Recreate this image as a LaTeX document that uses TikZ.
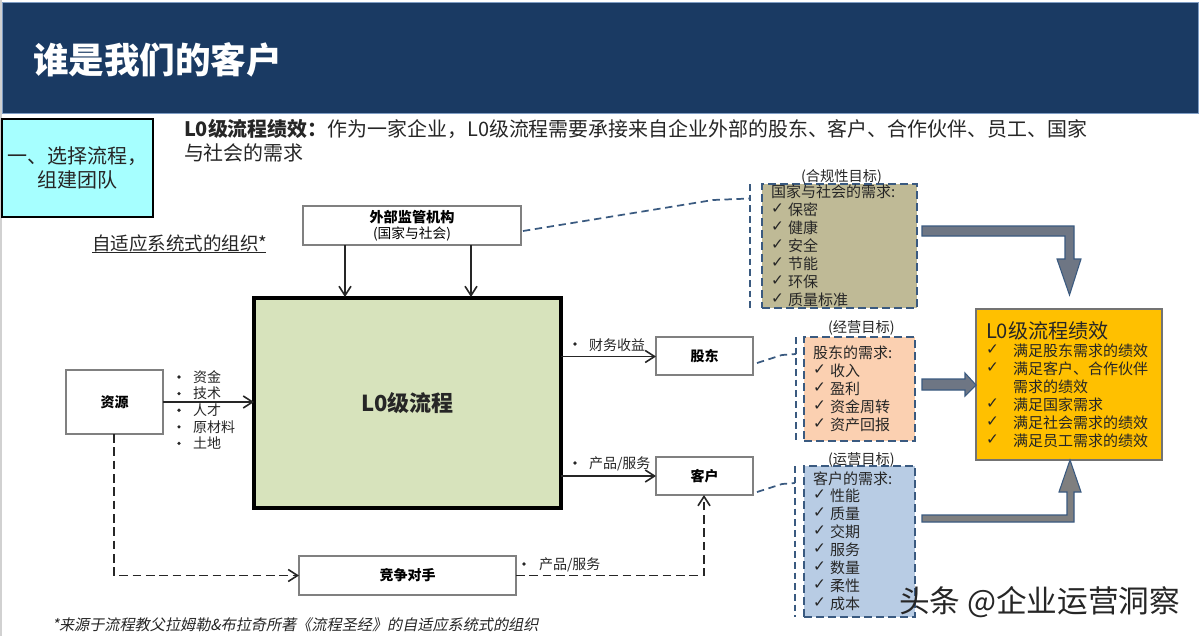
\documentclass[tikz,border=0pt]{standalone}
\usepackage{fontspec}
\setmainfont{Noto Sans CJK SC}
\usetikzlibrary{arrows.meta}
\definecolor{band}{HTML}{1A3A63}
\definecolor{bandedge}{HTML}{7F9DC4}
\definecolor{cyanbox}{HTML}{A6FFFF}
\definecolor{greenbox}{HTML}{D7E3BC}
\definecolor{khaki}{HTML}{BFBA96}
\definecolor{peach}{HTML}{FBD0B1}
\definecolor{bluebox}{HTML}{B8CCE4}
\definecolor{goldbox}{HTML}{FFC000}
\definecolor{fatarrow}{HTML}{6E7684}
\definecolor{fatgrey}{HTML}{7F7F7F}
\definecolor{dashblue}{HTML}{3A5A80}
\definecolor{boxgrey}{HTML}{808080}
\definecolor{ink}{HTML}{262626}
\tikzset{
  x=0.75pt,y=-0.75pt,
  every node/.style={outer sep=0pt},
  txt/.style={inner sep=0pt,text=ink,anchor=west,font=\fontsize{11.25}{14}\selectfont},
  small/.style={txt,font=\fontsize{10.5}{12}\selectfont},
  caption/.style={txt,font=\fontsize{10.7}{12}\selectfont},
  whitebox/.style={draw=boxgrey,line width=1.2pt,fill=white,inner sep=0pt,text=black,align=center,anchor=north west},
  boldlabel/.style={whitebox,font=\fontsize{10.5}{12}\selectfont\bfseries},
  arr/.style={draw=black!85,line width=1.2pt,-{Straight Barb[length=7pt,width=9pt,line width=1.2pt]}},
  darr/.style={arr,dash pattern=on 6.5pt off 3.5pt},
  dashbox/.style={draw=dashblue,line width=1.3pt,dash pattern=on 6pt off 3pt,inner sep=0pt,anchor=north west},
  dashline/.style={draw=dashblue,line width=1.3pt,dash pattern=on 5.5pt off 3.5pt},
  bracket/.style={draw=dashblue,line width=1.2pt,dash pattern=on 5pt off 3pt},
  fat/.style={fill=fatarrow,draw=dashblue,line width=0.8pt,line join=miter},
}
\newcommand{\ck}{{\fontspec{DejaVu Sans}\fontsize{11.5}{12}\selectfont ✓}}
\begin{document}
\begin{tikzpicture}
\useasboundingbox (0,0) rectangle (1200,636);
\fill[white] (0,0) rectangle (1200,636);
\fill[black!18] (0,0) rectangle (2,636);
% header
\node[fill=band,draw=bandedge,line width=0.7pt,minimum width=1196*0.75pt,minimum height=111*0.75pt,anchor=north west,inner sep=0pt] (header) at (2,2) {};
\node[anchor=west,inner sep=0pt,text=white,font=\fontsize{26.7}{30}\selectfont\bfseries] (title) at (33,60) {谁是我们的客户};
% step box
\node[draw=black,line width=1.2pt,fill=cyanbox,minimum width=151*0.75pt,minimum height=98*0.75pt,anchor=north west,inner sep=0pt,align=center,text=ink,font=\fontsize{15}{18}\selectfont] (stepbox) at (2,119) {一、选择流程，\\组建团队};
% intro
\node[txt,font=\fontsize{14.95}{18}\selectfont] (intro1) at (184,129) {\textbf{L0级流程绩效：}作为一家企业，L0级流程需要承接来自企业外部的股东、客户、合作伙伴、员工、国家};
\node[txt,font=\fontsize{14.95}{18}\selectfont] (intro2) at (184,153) {与社会的需求};
% org label
\node[txt,font=\fontsize{13.9}{16}\selectfont] (orglabel) at (92,243) {自适应系统式的组织*};
\coordinate (ula) at (92,252.5); \coordinate (ulb) at (266,252.5);
\draw[line width=0.7pt,black!85] (ula) -- (ulb);
% boxes
\node[whitebox,minimum width=218*0.75pt,minimum height=39*0.75pt] (reg) at (303,206) {\fontsize{10.6}{12}\selectfont\textbf{外部监管机构}\\\fontsize{10.3}{12}\selectfont (国家与社会)};
\node[draw=black,line width=2.3pt,fill=greenbox,minimum width=307*0.75pt,minimum height=210*0.75pt,anchor=north west,inner sep=0pt,font=\fontsize{16.5}{20}\selectfont\bfseries,text=ink] (main) at (254,298) {L0级流程};
\node[boldlabel,minimum width=97*0.75pt,minimum height=64*0.75pt] (res) at (66,370) {资源};
\node[boldlabel,minimum width=97*0.75pt,minimum height=38*0.75pt] (sh) at (656,337) {股东};
\node[boldlabel,minimum width=97*0.75pt,minimum height=38*0.75pt] (cu) at (656,457) {客户};
\node[boldlabel,minimum width=217*0.75pt,minimum height=39*0.75pt] (comp) at (299,556) {竞争对手};
% connectors
\coordinate (regA) at (345,245); \coordinate (mainA) at (345,297);
\coordinate (regB) at (471,245); \coordinate (mainB) at (471,297);
\draw[arr] (regA) -- (mainA);
\draw[arr] (regB) -- (mainB);
\draw[arr] (res.east) -- (res.east -| main.west);
\coordinate (mainS) at (561,356.5); \coordinate (mainC) at (561,476);
\draw[arr] (mainS) -- (mainS -| sh.west);
\draw[arr] (mainC) -- (mainC -| cu.west);
\coordinate (resdown) at (114,575.5);
\draw[darr] (res.south -| resdown) -- (resdown) -- (comp.west);
\coordinate (cucorner) at (704,575.5);
\draw[darr] (comp.east) -- (cucorner) -- (cu.south -| cucorner);
% input labels
\foreach \t [count=\i from 0] in {资金,技术,人才,原材料,土地}{
  \node[small] at (193,{377+16.6*\i}) {\t};
  \fill[ink] (179,{377+16.6*\i}) circle (1.8);
}
\node[small] (l1) at (589,345) {财务收益}; \fill[ink] (575,344) circle (1.8);
\node[small] (l2) at (589,464) {产品/服务}; \fill[ink] (575,463) circle (1.8);
\node[small] (l3) at (539,565) {产品/服务}; \fill[ink] (524,564) circle (1.8);
% need boxes
\node[dashbox,fill=khaki,minimum width=155*0.75pt,minimum height=124*0.75pt] (nat) at (762,184) {};
\node[dashbox,fill=peach,minimum width=111*0.75pt,minimum height=104*0.75pt] (shn) at (804,337) {};
\node[dashbox,fill=bluebox,minimum width=111*0.75pt,minimum height=151*0.75pt] (cun) at (804,466) {};
\coordinate (brA1) at (750,184); \coordinate (brA2) at (750,308); \coordinate (brAm) at (750,198.5);
\coordinate (brB1) at (796,337); \coordinate (brB2) at (796,441); \coordinate (brBm) at (796,354);
\coordinate (brC1) at (795,466); \coordinate (brC2) at (795,617); \coordinate (brCm) at (795,483);
\draw[bracket] (brA1) -- (brA2);
\draw[bracket] (brB1) -- (brB2);
\draw[bracket] (brC1) -- (brC2);
\coordinate (regout) at (523,231); \coordinate (regbend) at (713,200);
\coordinate (shout) at (757,363); \coordinate (shbend) at (782,355);
\coordinate (cuout) at (757,492); \coordinate (cubend) at (782,484);
\draw[dashline] (regout) -- (regbend) -- (brAm);
\draw[dashline] (shout) -- (shbend) -- (brBm);
\draw[dashline] (cuout) -- (cubend) -- (brCm);
% captions
\node[caption] at (801,176.5) {(合规性目标)};
\node[caption] at (828,328) {(经营目标)};
\node[caption] at (828,460) {(运营目标)};
% need texts
\node[txt] at (771,192) {国家与社会的需求:};
\foreach \t [count=\i from 0] in {保密,健康,安全,节能,环保,质量标准}{
  \node[txt] at (788,{209.5+18*\i}) {\t};
  \node[txt] at (771,{208.5+18*\i}) {\ck};
}
\node[txt] at (813,353) {股东的需求:};
\foreach \t [count=\i from 0] in {收入,盈利,资金周转,资产回报}{
  \node[txt] at (830,{370.5+18*\i}) {\t};
  \node[txt] at (813,{369.5+18*\i}) {\ck};
}
\node[txt] at (813,479) {客户的需求:};
\foreach \t [count=\i from 0] in {性能,质量,交期,服务,数量,柔性,成本}{
  \node[txt] at (830,{496+18*\i}) {\t};
  \node[txt] at (813,{495+18*\i}) {\ck};
}
% gold box
\node[draw=boxgrey!90!black,line width=1pt,fill=goldbox,minimum width=186*0.75pt,minimum height=151*0.75pt,anchor=north west,inner sep=0pt] (gold) at (976,309) {};
\node[txt,font=\fontsize{15.1}{17}\selectfont] at (986,331) {L0级流程绩效};
\foreach \t/\y in {满足股东需求的绩效/351,满足客户、合作伙伴/369,需求的绩效/387,满足国家需求/405,满足社会需求的绩效/422.5,满足员工需求的绩效/440.5}{
  \node[txt] at (1013,\y) {\t};
}
\foreach \y in {351,369,405,422.5,440.5}{
  \node[txt] at (986,\y-1) {\ck};
}
% fat arrows
\draw[fat] (922,226) -- (1074,226) -- (1074,259) -- (1081,259) -- (1069.5,295) -- (1057,259) -- (1065,259) -- (1065,236) -- (922,236) -- cycle;
\draw[fat] (922,379) -- (965,379) -- (965,373) -- (976,385) -- (965,396) -- (965,390) -- (922,390) -- cycle;
\draw[fat,fill=fatgrey] (922,515) -- (1067,515) -- (1067,492) -- (1059,492) -- (1070,460) -- (1081,492) -- (1074,492) -- (1074,522) -- (922,522) -- cycle;
% footnote
\node[txt,font=\fontsize{11.35}{13}\selectfont] (foot) at (52,625) {\addfontfeatures{FakeSlant=0.2}*来源于流程教父拉姆勒\&布拉奇所著《流程圣经》的自适应系统式的组织};
% watermark
\node[anchor=west,inner sep=0pt,text=black!85,font=\fontsize{23}{26}\selectfont] (wm) at (899,602) {头条 @企业运营洞察};
\end{tikzpicture}
\end{document}
